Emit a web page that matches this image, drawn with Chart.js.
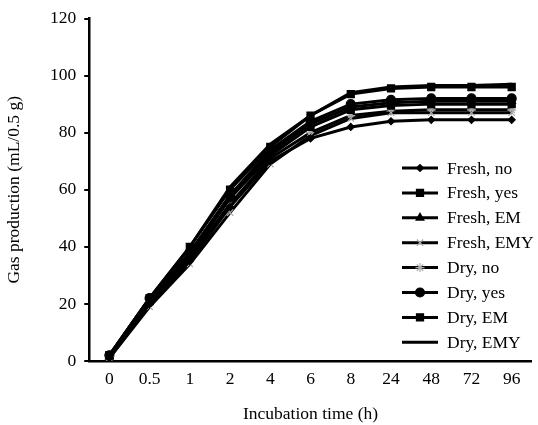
<!DOCTYPE html>
<html>
<head>
<meta charset="utf-8">
<script src="https://cdn.jsdelivr.net/npm/chart.js@4/dist/chart.umd.min.js"></script>
<style>
  html, body { margin: 0; padding: 0; background: #fff; }
  #wrap { width: 538px; height: 425px; }
</style>
</head>
<body>
<div id="wrap"><canvas id="myChart"></canvas></div>
<script>
// data
const hours = ['0', '0.5', '1', '2', '4', '6', '8', '24', '48', '72', '96'];
const freshNo  = [1, 20, 35, 54, 70, 78, 82, 84, 84.5, 84.5, 84.5];
const freshYes = [2, 21, 37, 57, 72, 82, 88, 89.5, 90, 90, 90];
const freshEM  = [1.5, 21, 38, 58, 73, 83, 89, 90.5, 91, 91, 91];
const freshEMY = [1, 19, 34, 52, 69, 79, 85, 87, 87, 87, 87];
const dryNo    = [1.5, 21, 36, 55, 71, 80, 86, 87.5, 88, 88, 88];
const dryYes   = [2, 22, 38, 58, 74, 84, 90, 91.5, 92, 92, 92];
const dryEM    = [2, 22, 40, 60, 75, 86, 93.5, 95.5, 96, 96, 96];
const dryEMY   = [2, 22, 40, 61, 76, 86, 94, 96, 96.5, 96.5, 97];
const yTicks = [0, 20, 40, 60, 80, 100, 120];

const font = 'Liberation Serif, Times New Roman, serif';
const fsize = 17.5;

function serie(label, data, style, radius, color) {
    return {
        label: label,
        data: data,
        borderColor: '#000',
        borderWidth: 3,
        pointStyle: style,
        pointRadius: style ? radius : 0,
        pointBackgroundColor: color || '#000',
        pointBorderColor: color || '#000',
        pointBorderWidth: 1.2,
        tension: 0
    };
}

// legend drawn inside the plot, line sample + marker
const insideLegend = {
    id: 'insideLegend',
    afterDraw(chart) {
        const c = chart.ctx;
        const x0 = 402, x1 = 438, tx = 447;
        let y = 168;
        c.save();
        c.font = fsize + 'px ' + font;
        c.textBaseline = 'middle';
        chart.data.datasets.forEach(ds => {
            c.strokeStyle = '#000';
            c.lineWidth = 3;
            c.beginPath();
            c.moveTo(x0, y);
            c.lineTo(x1, y);
            c.stroke();
            if (ds.pointStyle) {
                c.fillStyle = ds.pointBackgroundColor;
                c.strokeStyle = ds.pointBorderColor;
                c.lineWidth = ds.pointBorderWidth;
                Chart.helpers.drawPoint(c, {
                    pointStyle: ds.pointStyle,
                    radius: ds.pointRadius,
                    borderWidth: ds.pointBorderWidth,
                    rotation: 0
                }, (x0 + x1) / 2, y);
            }
            c.fillStyle = '#000';
            c.textAlign = 'left';
            c.fillText(ds.label, tx, y + 1);
            y += 24.9;
        });
        c.restore();
    }
};

const ctx = document.getElementById('myChart').getContext('2d');
const myChart = new Chart(ctx, {
    type: 'line',
    data: {
        labels: hours,
        datasets: [
            serie('Fresh, no', freshNo, 'rectRot', 3.5),
            serie('Fresh, yes', freshYes, 'rect', 5),
            serie('Fresh, EM', freshEM, 'triangle', 4.5),
            serie('Fresh, EMY', freshEMY, 'crossRot', 4.5, '#aaa'),
            serie('Dry, no', dryNo, 'star', 4.5, '#aaa'),
            serie('Dry, yes', dryYes, 'circle', 4.5),
            serie('Dry, EM', dryEM, 'rect', 5),
            serie('Dry, EMY', dryEMY, false, 0)
        ]
    },
    options: {
        responsive: true,
        maintainAspectRatio: false,
        animation: false,
        layout: { padding: { top: 9, right: 0, left: 0, bottom: 0 } },
        plugins: {
            legend: { display: false },
            tooltip: { enabled: false }
        },
        scales: {
            x: {
                offset: true,
                grid: { display: false, drawTicks: false },
                border: { display: true, color: '#000', width: 2.5 },
                ticks: { color: '#000', font: { family: font, size: fsize }, padding: 8, maxRotation: 0, autoSkip: false },
                title: { display: true, text: 'Incubation time (h)', color: '#000', font: { family: font, size: fsize }, padding: { top: 6, bottom: 0 } }
            },
            y: {
                min: 0,
                max: 120,
                afterBuildTicks: (axis) => { axis.ticks = yTicks.map(v => ({ value: v })); },
                grid: { drawOnChartArea: false, drawTicks: true, tickLength: 5, color: '#000', lineWidth: 2 },
                border: { display: true, color: '#000', width: 2.5 },
                ticks: { color: '#000', font: { family: font, size: fsize }, padding: 8 },
                title: { display: true, text: 'Gas production (mL/0.5 g)', color: '#000', font: { family: font, size: fsize }, padding: { bottom: 17 } }
            }
        }
    },
    plugins: [insideLegend]
});
</script>
</body>
</html>
